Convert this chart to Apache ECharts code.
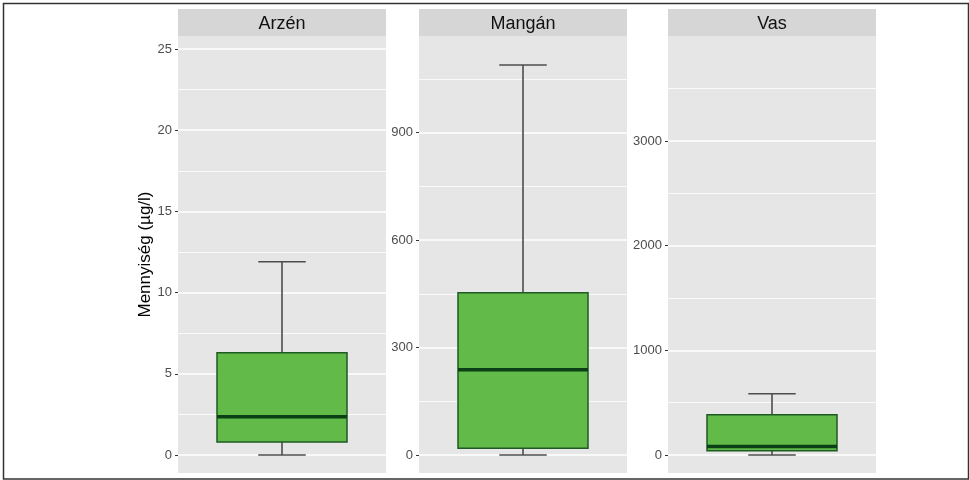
<!DOCTYPE html>
<html>
<head>
<meta charset="utf-8">
<script src="https://cdn.jsdelivr.net/npm/echarts@6/dist/echarts.min.js"></script>
<style>
  html, body { margin: 0; background: #fff; }
  #main { width: 969px; height: 480px; }
</style>
</head>
<body>
<div id="main"></div>
<script>
// box statistics per facet (µg/l)
const facets = ['Arzén', 'Mangán', 'Vas']
const whiskerLow = [0, 0, 0]
const q1 = [0.8, 18.7, 41]
const median = [2.35, 238, 80]
const q3 = [6.3, 453, 385]
const whiskerHigh = [11.9, 1089, 585]

// free y scales, one per facet
const yMin = [-1.11, -50.3, -172]
const yMax = [25.8, 1170, 4003]
const majorTicks = [[0, 5, 10, 15, 20, 25], [0, 300, 600, 900], [0, 1000, 2000, 3000]]
const minorTicks = [[2.5, 7.5, 12.5, 17.5, 22.5], [150, 450, 750, 1050], [500, 1500, 2500, 3500]]

// layout
const panelLeft = [178, 419, 668]
const panelW = 208
const panelTop = 36
const panelH = 437

const chart = echarts.init(document.getElementById('main'))

function renderBox(params, api) {
  const x = api.value(0)
  const pt = i => api.coord([x, api.value(i)])
  const lo = pt(1), bot = pt(2), mid = pt(3), top = pt(4), hi = pt(5)
  const half = api.size([0.375, 0])[0]
  const cap = api.size([0.137, 0])[0]
  const cx = lo[0]
  const whisker = { stroke: '#4d4d4d', lineWidth: 1.6 }
  return {
    type: 'group',
    children: [
      { type: 'line', shape: { x1: cx, y1: lo[1], x2: cx, y2: bot[1] }, style: whisker },
      { type: 'line', shape: { x1: cx, y1: top[1], x2: cx, y2: hi[1] }, style: whisker },
      { type: 'line', shape: { x1: cx - cap, y1: lo[1], x2: cx + cap, y2: lo[1] }, style: whisker },
      { type: 'line', shape: { x1: cx - cap, y1: hi[1], x2: cx + cap, y2: hi[1] }, style: whisker },
      {
        type: 'rect',
        shape: { x: cx - half, y: top[1], width: half * 2, height: bot[1] - top[1] },
        style: { fill: '#62bb48', stroke: '#1f5a25', lineWidth: 1.5 }
      },
      {
        type: 'line',
        shape: { x1: cx - half, y1: mid[1], x2: cx + half, y2: mid[1] },
        style: { stroke: '#0b3f16', lineWidth: 3.5 }
      }
    ]
  }
}

const grids = [], xAxes = [], yAxes = [], series = [], graphics = []

facets.forEach((name, i) => {
  grids.push({
    left: panelLeft[i], top: panelTop, width: panelW, height: panelH,
    show: true, backgroundColor: '#e6e6e6', borderWidth: 0,
    outerBoundsMode: 'none'
  })
  xAxes.push({ gridIndex: i, type: 'value', min: 0.4, max: 1.6, show: false })
  series.push({
    type: 'custom',
    name: name,
    xAxisIndex: i,
    yAxisIndex: i,
    renderItem: renderBox,
    encode: { x: 0, y: [1, 2, 3, 4, 5] },
    data: [[1, whiskerLow[i], q1[i], median[i], q3[i], whiskerHigh[i]]],
    z: 5
  })
  // strip header
  graphics.push({
    type: 'rect',
    shape: { x: panelLeft[i], y: 9, width: panelW, height: panelTop - 9 },
    style: { fill: '#d6d6d6' }
  })
  graphics.push({
    type: 'text',
    x: panelLeft[i] + panelW / 2,
    y: 24,
    style: {
      text: name, fill: '#111', font: '18px "Liberation Sans", Arial, sans-serif',
      textAlign: 'center', textVerticalAlign: 'middle'
    }
  })
})

// major axes (labels, ticks, major grid)
facets.forEach((name, i) => {
  yAxes.push({
    gridIndex: i,
    type: 'value',
    min: yMin[i],
    max: yMax[i],
    name: i === 0 ? 'Mennyiség (µg/l)' : '',
    nameLocation: 'middle',
    nameGap: 24,
    nameTextStyle: { color: '#000', fontSize: 17 },
    axisLine: { show: false },
    axisTick: { show: true, length: 3, customValues: majorTicks[i], lineStyle: { color: '#333', width: 1 } },
    axisLabel: {
      customValues: majorTicks[i], color: '#4d4d4d', fontSize: 13, margin: 6,
      formatter: v => String(v)
    },
    splitLine: { show: true, lineStyle: { color: '#ffffff', width: 1.6 } }
  })
})
// minor grid
facets.forEach((name, i) => {
  yAxes.push({
    gridIndex: i,
    type: 'value',
    position: 'left',
    min: yMin[i],
    max: yMax[i],
    axisLine: { show: false },
    axisTick: { show: false, customValues: minorTicks[i] },
    axisLabel: { show: false, customValues: minorTicks[i] },
    splitLine: { show: true, lineStyle: { color: '#fafafa', width: 1 } }
  })
})

// outer frame
graphics.push({
  type: 'rect',
  shape: { x: 3.5, y: 3.5, width: 965, height: 475.5 },
  style: { fill: 'none', stroke: '#333', lineWidth: 1.5 },
  z: 100
})

chart.setOption({
  animation: false,
  textStyle: { fontFamily: '"Liberation Sans", Arial, sans-serif' },
  grid: grids,
  xAxis: xAxes,
  yAxis: yAxes,
  series: series,
  graphic: graphics
})
</script>
</body>
</html>
